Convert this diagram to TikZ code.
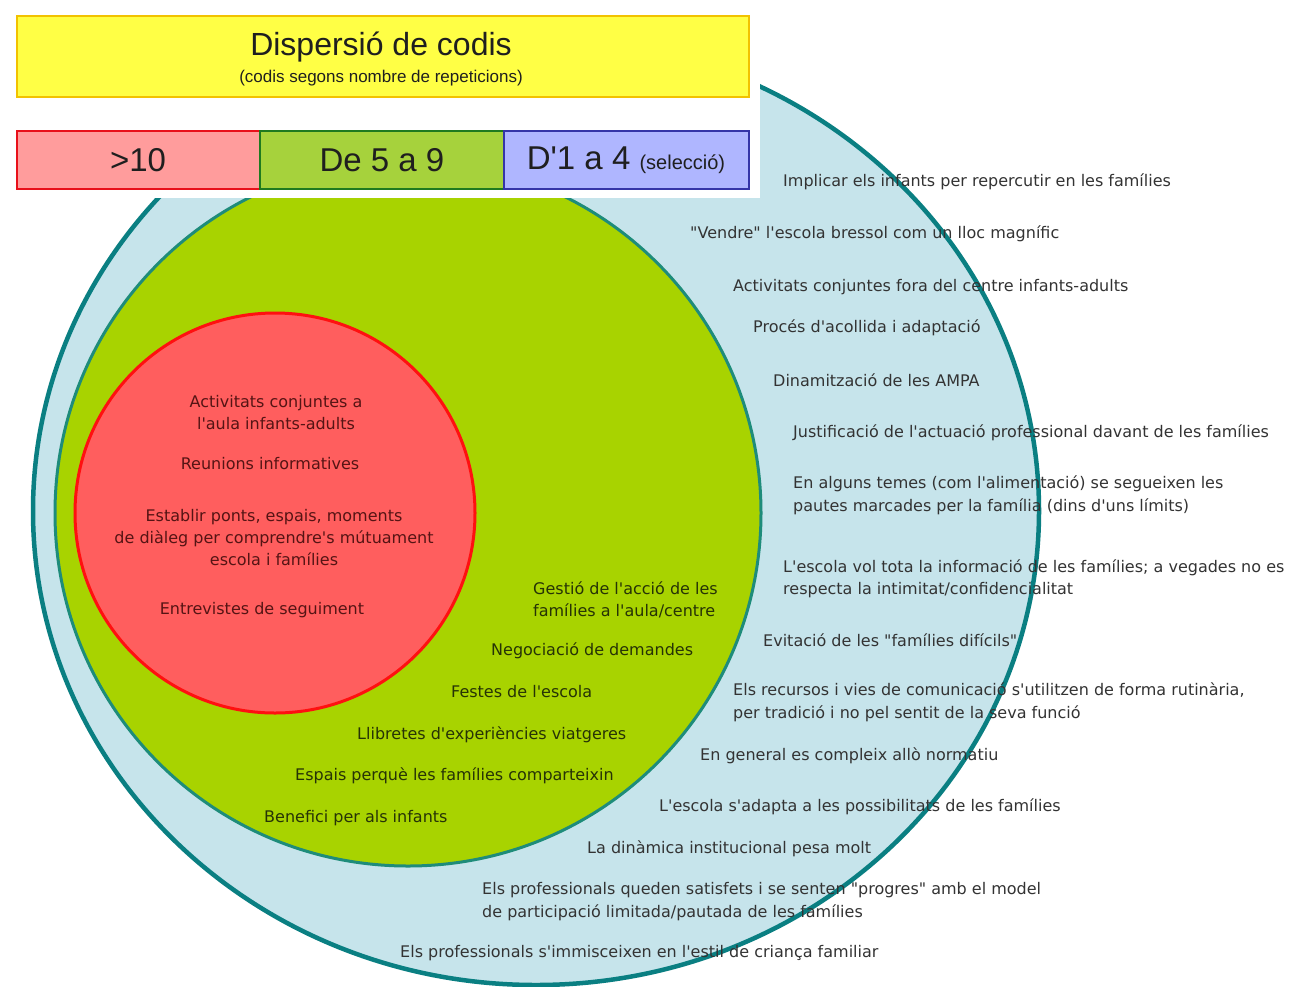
\documentclass[tikz,border=0pt]{standalone}
\usepackage{fontspec}
\setmainfont{DejaVu Sans}[Ligatures=TeXOff]
\newfontfamily\hdr{Liberation Sans}
\definecolor{lightblue}{HTML}{C6E4EB}
\definecolor{outerline}{HTML}{0A7F82}
\definecolor{greenline}{HTML}{1E8C7A}
\definecolor{greenfill}{HTML}{A8D300}
\definecolor{redfill}{HTML}{FF5E5E}
\definecolor{redline}{HTML}{FF1010}
\definecolor{bluetxt}{HTML}{333333}
\definecolor{greentxt}{HTML}{263306}
\definecolor{redtxt}{HTML}{551414}
\definecolor{yfill}{HTML}{FFFF45}
\definecolor{yline}{HTML}{F2C200}
\definecolor{b1fill}{HTML}{FF9C9C}
\definecolor{b1line}{HTML}{E8101A}
\definecolor{b2fill}{HTML}{A6D23C}
\definecolor{b2line}{HTML}{1F7A1F}
\definecolor{b3fill}{HTML}{AFB6FF}
\definecolor{b3line}{HTML}{3535A8}
\begin{document}
\begin{tikzpicture}[x=1pt,y=-1pt,
  otxt/.style={inner sep=0pt, anchor=west, align=left, text=bluetxt,
    font=\fontsize{16}{22.5}\selectfont},
  gtxt/.style={otxt, text=greentxt},
  rtxt/.style={inner sep=0pt, anchor=center, align=center, text=redtxt,
    font=\fontsize{16}{22}\selectfont},
  htxt/.style={inner sep=0pt, anchor=center, text=black!88}]
\useasboundingbox (0,0) rectangle (1290,986);
\fill[white] (0,0) rectangle (1290,986);
% circles
\draw[outerline, line width=4.5pt, fill=lightblue] (536,511) ellipse [x radius=503pt, y radius=474pt];
\draw[greenline, line width=3pt, fill=greenfill] (408,513) circle [radius=353pt];
\draw[redline, line width=3pt, fill=redfill] (275,513) circle [radius=200pt];
% white header background
\fill[white] (0,0) rectangle (760,198);
% header boxes
\draw[yline, line width=2.5pt, fill=yfill] (17,16) rectangle (749,97);
\node[htxt, font=\hdr\fontsize{32}{36}\selectfont] (title) at (381,47) {Dispersió de codis};
\node[htxt, font=\hdr\fontsize{17}{20}\selectfont] (sub) at (381,78) {(codis segons nombre de repeticions)};
\draw[b1line, line width=2.5pt, fill=b1fill] (17,131) rectangle (260,189);
\draw[b2line, line width=2.5pt, fill=b2fill] (260,131) rectangle (504,189);
\draw[b3line, line width=2.5pt, fill=b3fill] (504,131) rectangle (749,189);
\node[htxt, font=\hdr\fontsize{33}{36}\selectfont] (b1) at (138,160) {>10};
\node[htxt, font=\hdr\fontsize{33}{36}\selectfont] (b2) at (382,160) {De 5 a 9};
\node[htxt, font=\hdr\fontsize{33}{36}\selectfont] (b3) at (626,160) {D'1 a 4 {\fontsize{20}{22}\selectfont(selecció)}};
% red circle texts
\node[rtxt] (r1) at (276,413) {Activitats conjuntes a\\l'aula infants-adults};
\node[rtxt] (r2) at (270,464) {Reunions informatives};
\node[rtxt] (r3) at (274,538) {Establir ponts, espais, moments\\de diàleg per comprendre's mútuament\\escola i famílies};
\node[rtxt] (r4) at (262,610) {Entrevistes de seguiment};
% green texts
\node[gtxt] (g1) at (533,600) {Gestió de l'acció de les\\famílies a l'aula/centre};
\node[gtxt] (g2) at (491,651) {Negociació de demandes};
\node[gtxt] (g3) at (451,692) {Festes de l'escola};
\node[gtxt] (g4) at (357,735) {Llibretes d'experiències viatgeres};
\node[gtxt] (g5) at (295,776) {Espais perquè les famílies comparteixin};
\node[gtxt] (g6) at (264,818) {Benefici per als infants};
% outer texts
\node[otxt] (t1) at (783,182) {Implicar els infants per repercutir en les famílies};
\node[otxt] (t2) at (690,234) {"Vendre" l'escola bressol com un lloc magnífic};
\node[otxt] (t3) at (733,287) {Activitats conjuntes fora del centre infants-adults};
\node[otxt] (t4) at (753,328) {Procés d'acollida i adaptació};
\node[otxt] (t5) at (773,380) {Dinamització de les AMPA};
\node[otxt] (t6) at (793,433) {Justificació de l'actuació professional davant de les famílies};
\node[otxt] (t7) at (793,495.5) {En alguns temes (com l'alimentació) se segueixen les\\pautes marcades per la família (dins d'uns límits)};
\node[otxt] (t8) at (783,579) {L'escola vol tota la informació de les famílies; a vegades no es\\respecta la intimitat/confidencialitat};
\node[otxt] (t9) at (763,640) {Evitació de les "famílies difícils"};
\node[otxt] (t10) at (733,702.5) {Els recursos i vies de comunicació s'utilitzen de forma rutinària,\\per tradició i no pel sentit de la seva funció};
\node[otxt] (t11) at (700,756) {En general es compleix allò normatiu};
\node[otxt] (t12) at (659,807) {L'escola s'adapta a les possibilitats de les famílies};
\node[otxt] (t13) at (587,849) {La dinàmica institucional pesa molt};
\node[otxt] (t14) at (482,901.5) {Els professionals queden satisfets i se senten "progres" amb el model\\de participació limitada/pautada de les famílies};
\node[otxt] (t15) at (400,953) {Els professionals s'immisceixen en l'estil de criança familiar};
\end{tikzpicture}
\end{document}
